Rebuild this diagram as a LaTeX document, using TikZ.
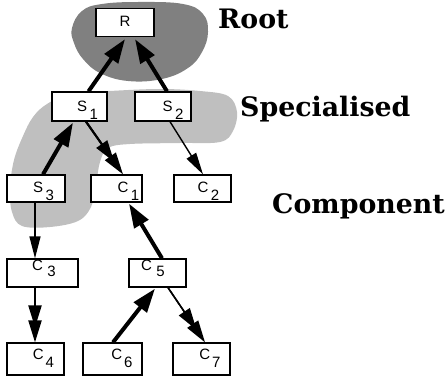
\documentclass[tikz,border=0pt]{standalone}
\usepackage{fontspec}
\setmainfont{Liberation Sans}
\newfontfamily\tagfont{DejaVu Serif}
\newfontfamily\boxfont{Liberation Sans}
\usetikzlibrary{arrows.meta}

% box label: letter, a gap, then a lowered index
\newcommand{\idx}[4][8pt]{#2\kern#4\raisebox{-#1}{#3}}

\tikzset{
  cbox/.style={draw, line width=1.3pt, fill=white, inner sep=0pt,
               minimum width=#1},
  boxtext/.style={inner sep=0pt, font=\boxfont\fontsize{15}{15}\selectfont},
  heavy/.style={line width=4pt,
                -{Triangle[length=24pt,width=16pt]}},
  lean/.style={line width=1.4pt,
               -{Triangle[length=22pt,width=11pt]}},
  twin/.style={line width=#1,
               -{Triangle[length=22pt,width=13pt]}},
  twinback/.style={line width=#1, shorten >=15pt,
               -{Triangle[length=22pt,width=13pt]}},
  tag/.style={font=\tagfont\bfseries\fontsize{26.8}{26.8}\selectfont,
              inner sep=0pt, anchor=base west},
}

\begin{document}
\begin{tikzpicture}[x=1pt,y=-1pt]
\useasboundingbox (0,0) rectangle (447,377);

% shaded regions
\fill[black!50] plot[smooth cycle, tension=0.7] coordinates {
  (72,28) (82,11) (102,4) (140,2) (183,4) (203,14) (208,32) (202,52)
  (188,68) (162,79) (128,81) (100,73) (83,59) (74,43)};
\fill[black!25] plot[smooth cycle, tension=0.6] coordinates {
  (47,104) (70,94) (110,91) (160,89) (200,91) (228,96) (237,112) (233,131)
  (220,142) (180,143) (130,144) (108,148) (100,162) (96,185) (91,207)
  (78,221) (50,227) (22,226) (12,212) (10,188) (14,160) (23,136) (33,117)};

% boxes
\node[cbox=58pt, minimum height=28pt] (R)  at (125,22.5)  {};
\node[cbox=55pt, minimum height=29pt] (S1) at (79.5,106.5) {};
\node[cbox=56pt, minimum height=29pt] (S2) at (163,106.5)  {};
\node[cbox=58pt, minimum height=27pt] (S3) at (36,188.5)   {};
\node[cbox=51pt, minimum height=27pt] (C1) at (116.5,188.5){};
\node[cbox=57pt, minimum height=27pt] (C2) at (202.5,188.5){};
\node[cbox=71pt, minimum height=28pt] (C3) at (42.5,273)   {};
\node[cbox=57pt, minimum height=28pt] (C5) at (157.5,273)  {};
\node[cbox=57pt, minimum height=32pt] (C4) at (35.5,359)   {};
\node[cbox=59pt, minimum height=32pt] (C6) at (112.5,359)  {};
\node[cbox=57pt, minimum height=32pt] (C7) at (201.5,359)  {};

% box texts
\node[boxtext] (tR)  at ([xshift=0pt,yshift=1pt]R.center)      {R};
\node[boxtext] (tS1) at ([xshift=8pt,yshift=-3.5pt]S1.center)  {\idx{S}{1}{2.5pt}};
\node[boxtext] (tS2) at ([xshift=10pt,yshift=-3.5pt]S2.center) {\idx{S}{2}{2.5pt}};
\node[boxtext] (tS3) at ([xshift=7.5pt,yshift=-2.5pt]S3.center){\idx{S}{3}{2.5pt}};
\node[boxtext] (tC1) at ([xshift=12pt,yshift=-2.5pt]C1.center) {\idx{C}{1}{2.5pt}};
\node[boxtext] (tC2) at ([xshift=6pt,yshift=-2.5pt]C2.center)  {\idx{C}{2}{2.5pt}};
\node[boxtext] (tC3) at ([xshift=1.5pt,yshift=4.5pt]C3.center) {\idx[6pt]{C}{3}{4.5pt}};
\node[boxtext] (tC5) at ([xshift=-4.5pt,yshift=4.5pt]C5.center){\idx[6pt]{C}{5}{4.5pt}};
\node[boxtext] (tC4) at ([xshift=8pt,yshift=1pt]C4.center)     {\idx{C}{4}{2pt}};
\node[boxtext] (tC6) at ([xshift=9.5pt,yshift=1pt]C6.center)   {\idx{C}{6}{2pt}};
\node[boxtext] (tC7) at ([xshift=8.5pt,yshift=1pt]C7.center)   {\idx{C}{7}{2pt}};

% level names
\node[tag] (root) at (218,29)  {Root};
\node[tag] (spec) at (240,117) {Specialised};
\node[tag] (comp) at (272,213) {Component};

% connectors
\draw[heavy] ([xshift=9pt]S1.north)  -- ([xshift=0pt,yshift=-2pt]R.south);
\draw[heavy] ([xshift=4pt]S2.north)  -- ([xshift=10pt,yshift=-2pt]R.south);
\draw[heavy] ([xshift=7pt]S3.north)  -- ([xshift=-6.5pt,yshift=-1pt]S1.south);
\draw[heavy] ([xshift=4.5pt]C5.north) -- ([xshift=12.5pt,yshift=-1pt]C1.south);
\draw[heavy] ([xshift=0.5pt]C6.north) -- ([xshift=-2.5pt,yshift=-1pt]C5.south);
\draw[lean]  ([xshift=7pt]S2.south)   -- ([xshift=0.5pt]C2.north);
\draw[lean]  ([xshift=-1pt]S3.south)  -- ([xshift=-7.5pt]C3.north);
% double heads: a second head set back along the same line
\draw[twin=2pt]       ([xshift=6.5pt]S1.south) -- ([xshift=6.5pt]C1.north);
\draw[twinback=2pt]   ([xshift=6.5pt]S1.south) -- ([xshift=6.5pt]C1.north);
\draw[twin=2.2pt]     ([xshift=-7.5pt]C3.south) -- ([xshift=-0.5pt]C4.north);
\draw[twinback=2.2pt] ([xshift=-7.5pt]C3.south) -- ([xshift=-0.5pt]C4.north);
\draw[twin=1.5pt]     ([xshift=10.5pt]C5.south) -- ([xshift=3.5pt]C7.north);
\draw[twinback=1.5pt] ([xshift=10.5pt]C5.south) -- ([xshift=3.5pt]C7.north);
\end{tikzpicture}
\end{document}
